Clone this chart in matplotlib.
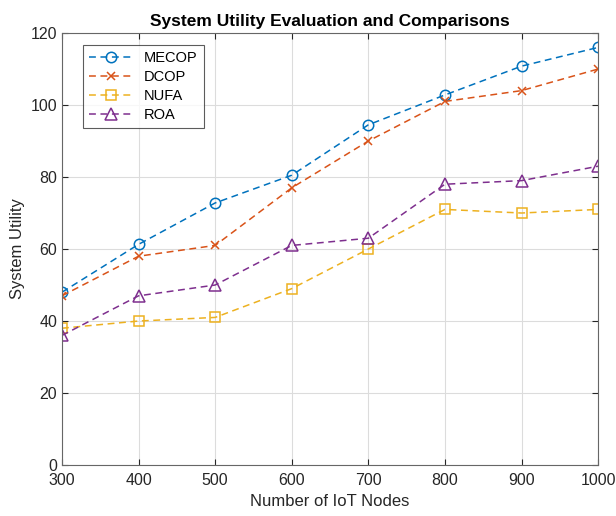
import matplotlib
matplotlib.use("Agg")
import matplotlib.pyplot as plt

plt.rcParams["font.family"] = ["Liberation Sans", "DejaVu Sans"]

# Data
nodes = [300, 400, 500, 600, 700, 800, 900, 1000]
mecop = [48, 61.3, 72.8, 80.5, 94.5, 102.8, 110.8, 116]
dcop = [47, 58, 61, 77, 90, 101, 104, 110]
nufa = [38, 40, 41, 49, 60, 71, 70, 71]
roa = [36, 47, 50, 61, 63, 78, 79, 83]

series = [
    ("MECOP", mecop, "#0072BD", "o", 7.5),
    ("DCOP", dcop, "#D95319", "x", 5.5),
    ("NUFA", nufa, "#EDB120", "s", 7),
    ("ROA", roa, "#7E2F8E", "^", 8),
]

fig = plt.figure(figsize=(6.16, 5.16), dpi=100)
ax = fig.add_axes([0.1006, 0.0988, 0.8704, 0.8372])

for name, vals, color, marker, ms in series:
    ax.plot(nodes, vals, linestyle=(0, (4.5, 3)), color=color, marker=marker,
            markersize=ms, markerfacecolor="none", markeredgewidth=1.1,
            linewidth=1.1, label=name)

ax.set_xlim(300, 1000)
ax.set_ylim(0, 120)
ax.set_xticks(nodes)
ax.set_yticks(range(0, 121, 20))
ax.grid(True, color="#dcdcdc", linewidth=0.8)
ax.set_axisbelow(True)
for sp in ax.spines.values():
    sp.set_color("#666666")
ax.tick_params(direction="in", top=True, right=True, colors="#262626",
               labelsize=11.5, length=4)
ax.tick_params(axis="x", pad=6)

ax.set_xlabel("Number of IoT Nodes", fontsize=12, color="#262626")
ax.set_ylabel("System Utility", fontsize=12, color="#262626")
ax.set_title("System Utility Evaluation and Comparisons", fontsize=12.5,
             fontweight="bold", color="black", pad=5)

leg = ax.legend(loc="upper left", bbox_to_anchor=(0.039, 0.972), fontsize=10.5,
                frameon=True, fancybox=False, edgecolor="#333333",
                handlelength=3.0, borderpad=0.4, labelspacing=0.35,
                borderaxespad=0)
leg.get_frame().set_linewidth(0.8)

fig.savefig("out.png", dpi=100)
